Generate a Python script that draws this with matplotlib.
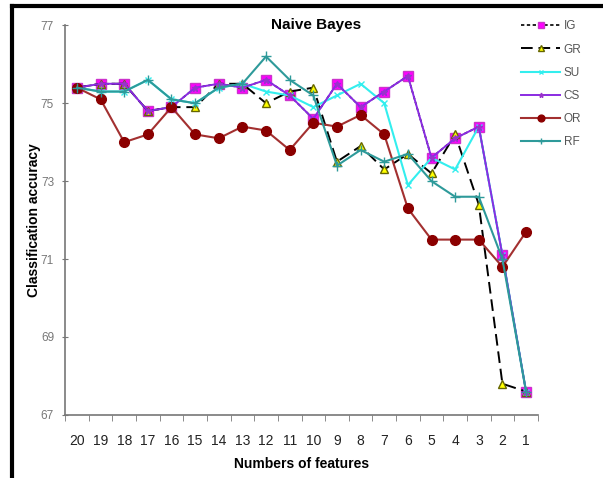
import matplotlib
matplotlib.use("Agg")
import matplotlib.pyplot as plt
from matplotlib.lines import Line2D

plt.rcParams['font.family'] = ['Liberation Sans', 'DejaVu Sans']

features = ['20', '19', '18', '17', '16', '15', '14', '13', '12', '11',
            '10', '9', '8', '7', '6', '5', '4', '3', '2', '1']

ig = [75.4, 75.5, 75.5, 74.8, 74.9, 75.4, 75.5, 75.4, 75.6, 75.2,
      74.6, 75.5, 74.9, 75.3, 75.7, 73.6, 74.1, 74.4, 71.1, 67.6]
gr = [75.4, 75.5, 75.5, 74.8, 74.9, 74.9, 75.5, 75.5, 75.0, 75.3,
      75.4, 73.5, 73.9, 73.3, 73.7, 73.2, 74.2, 72.4, 67.8, 67.6]
su = [75.4, 75.3, 75.3, 75.6, 75.1, 75.0, 75.4, 75.5, 75.3, 75.2,
      74.9, 75.2, 75.5, 75.0, 72.9, 73.6, 73.3, 74.4, 71.1, 67.6]
cs = [75.4, 75.5, 75.5, 74.8, 74.9, 75.4, 75.5, 75.4, 75.6, 75.2,
      74.6, 75.5, 74.9, 75.3, 75.7, 73.6, 74.1, 74.4, 71.1, 67.6]
orr = [75.4, 75.1, 74.0, 74.2, 74.9, 74.2, 74.1, 74.4, 74.3, 73.8,
       74.5, 74.4, 74.7, 74.2, 72.3, 71.5, 71.5, 71.5, 70.8, 71.7]
rf = [75.4, 75.3, 75.3, 75.6, 75.1, 75.0, 75.4, 75.5, 76.2, 75.6,
      75.2, 73.4, 73.8, 73.5, 73.7, 73.0, 72.6, 72.6, 71.0, 67.6]

x = list(range(len(features)))

fig = plt.figure(figsize=(6.03, 4.78), dpi=100)
ax = fig.add_axes([0.108, 0.132, 0.784, 0.815])

ax.plot(x, ig, color='black', ls=(0, (2, 1.5)), lw=1.2, marker='s', ms=7,
        mfc='#ff00ff', mec='#cc33cc', label='IG')
ax.plot(x, gr, color='black', ls=(0, (6, 3)), lw=1.4, marker='^', ms=6,
        mfc='#ffff00', mec='#666600', label='GR')
ax.plot(x, su, color='#33eeee', lw=1.5, marker='x', ms=4, mew=1,
        label='SU')
ax.plot(x, cs, color='#8a2be2', lw=1.4, marker='*', ms=5,
        mfc='#9933cc', mec='#9933cc', label='CS')
ax.plot(x, orr, color='#a33030', lw=1.5, marker='o', ms=7,
        mfc='#8b0000', mec='#8b0000', label='OR')
ax.plot(x, rf, color='#2e9a9a', lw=1.5, marker='+', ms=7, mew=1,
        label='RF')

ax.set_xlim(-0.5, len(features) - 0.5)
ax.set_ylim(67, 77)
ax.set_yticks([67, 69, 71, 73, 75, 77])

# category labels at centres, tick marks between categories
ax.set_xticks(x)
ax.set_xticklabels(features)
ax.set_xticks([i - 0.5 for i in range(len(features) + 1)], minor=True)
ax.tick_params(axis='x', which='major', length=0, pad=14, labelsize=10,
               colors='#222222')
ax.tick_params(axis='x', which='minor', length=4, color='#777777')
ax.tick_params(axis='y', length=4, direction='inout', color='#777777',
               labelsize=8.5, labelcolor='#777777', pad=6)

for side in ['top', 'right']:
    ax.spines[side].set_visible(False)
for side in ['left', 'bottom']:
    ax.spines[side].set_color('#777777')
    ax.spines[side].set_linewidth(1.2)

fig.text(0.524, 0.948, 'Naive Bayes', fontsize=11, fontweight='bold',
         ha='center', va='center')
ax.set_xlabel('Numbers of features', fontsize=10, fontweight='bold',
              labelpad=6)
ax.set_ylabel('Classification accuracy', fontsize=10, fontweight='bold',
              labelpad=0)

leg = ax.legend(loc='upper left', bbox_to_anchor=(0.955, 1.025), frameon=False,
                fontsize=8.5, handlelength=3.3, labelspacing=0.95,
                handletextpad=0.3, markerscale=0.7, borderaxespad=0)
for t in leg.get_texts():
    t.set_color('#555555')

# black frame along the left and top edges
fig.add_artist(Line2D([0.02, 0.02], [0, 0.988], color='black', lw=3,
                      transform=fig.transFigure))
fig.add_artist(Line2D([0.02, 1.0], [0.988, 0.988], color='black', lw=3,
                      transform=fig.transFigure))

fig.savefig('out.png', dpi=100)
